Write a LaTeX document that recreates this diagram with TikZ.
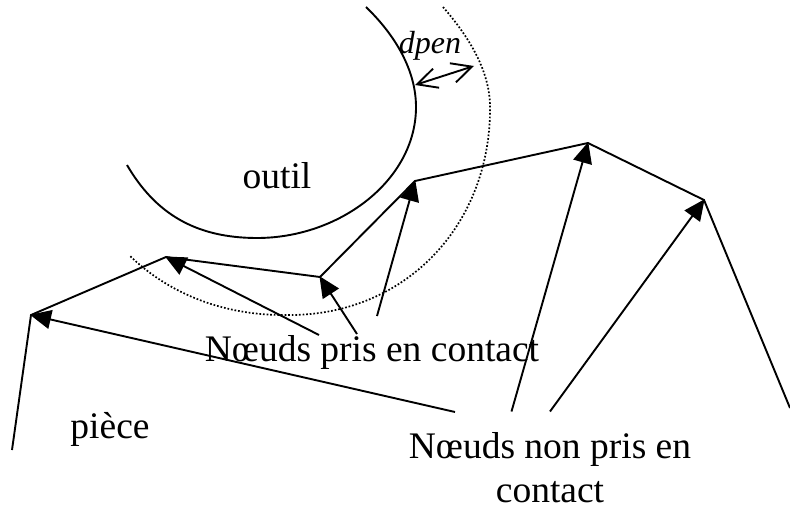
\documentclass[tikz,border=0pt]{standalone}
\usepackage{fontspec}
\setmainfont{Liberation Serif}
\usetikzlibrary{arrows.meta}
\tikzset{
  ln/.style={line width=1.9pt,line join=miter},
  lead/.style={line width=1.9pt,-{Triangle[length=21pt,width=19pt]},shorten >=-1pt},
  dims/.style={line width=1.9pt,{Straight Barb[length=20pt,width=20pt]}-{Straight Barb[length=20pt,width=20pt]}},
  dots/.style={line width=1.7pt,dash pattern=on 1.7pt off 1.9pt},
  lbl/.style={inner sep=0pt,anchor=base,font=\fontsize{37.5}{44}\selectfont,align=center}
}
\begin{document}
\begin{tikzpicture}[x=1pt,y=-1pt]
\useasboundingbox (0,0) rectangle (790,508);
\coordinate (p0) at (12,450);
\coordinate (p1) at (31,315);
\coordinate (p2) at (166,257);
\coordinate (p3) at (320,277);
\coordinate (p4) at (415,181);
\coordinate (p5) at (588,143);
\coordinate (p6) at (704,200);
\coordinate (p7) at (790,408);
\draw[ln] (p0)--(p1)--(p2)--(p3)--(p4)--(p5)--(p6)--(p7);
\draw[ln] (366,7) .. controls (395,35) and (416,70) .. (416,107)
  .. controls (416,180) and (340,238) .. (257,238)
  .. controls (195,238) and (155,213) .. (127,165);
\draw[dots] (443,7) .. controls (470,38) and (490,72) .. (490,107)
  .. controls (491,225) and (405,318) .. (283,315)
  .. controls (225,315) and (170,295) .. (129,255);
\node[lbl,font=\fontsize{32}{36}\selectfont\itshape] (dpen) at (430,54) {dpen};
\coordinate (da) at (415,85);
\coordinate (db) at (474,66);
\draw[dims] (da)--(db);
\node[lbl] (outil) at (277,188) {outil};
\node[lbl] (piece) at (110,438) {pièce};
\node[lbl] (pris) at (372,361) {Nœuds pris en contact};
\node[lbl] (nonpris) at (550,502) {Nœuds non pris en\\contact};
\coordinate (s1) at (455,412);
\coordinate (s2) at (319,335);
\coordinate (s3) at (357,334);
\coordinate (s4) at (377,316);
\coordinate (s5) at (511.5,411.5);
\coordinate (s6) at (550,411.5);
\draw[lead] (s1)--(p1);
\draw[lead] (s2)--(p2);
\draw[lead] (s3)--(p3);
\draw[lead] (s4)--(p4);
\draw[lead] (s5)--(p5);
\draw[lead] (s6)--(p6);
\end{tikzpicture}
\end{document}
